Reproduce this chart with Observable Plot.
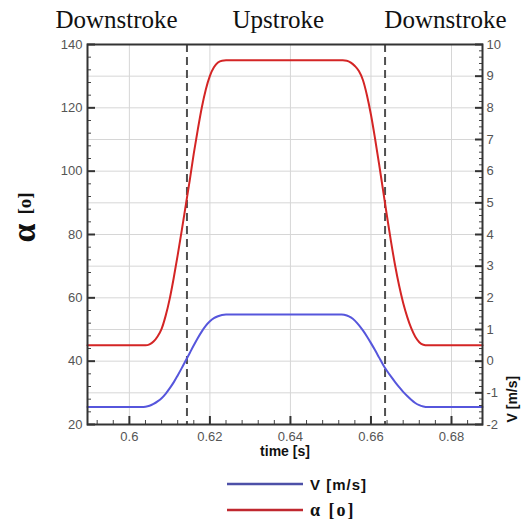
<!DOCTYPE html>
<html><head><meta charset="utf-8">
<script src="https://cdn.jsdelivr.net/npm/d3@7"></script>
<script src="https://cdn.jsdelivr.net/npm/@observablehq/plot@0.6"></script>
<style>
body{margin:0;background:#fff;}
#chart{width:525px;height:470px;}
#legend{position:relative;width:525px;height:54px;}
.row{position:absolute;left:227px;display:flex;align-items:center;height:20px;}
.row svg{display:block;}
.lab{margin-left:7px;color:#111;}
</style></head><body>
<div id="chart"></div>
<div id="legend"></div>
<script>
// ---- data ----
const alphaT = [0.5896,0.6000,0.6040,0.6050,0.6060,0.6070,0.6080,0.6090,0.6100,0.6110,0.6120,0.6130,0.6140,0.6150,0.6160,0.6170,0.6180,0.6190,0.6200,0.6210,0.6220,0.6230,0.6240,
  0.6400,0.6530,0.6540,0.6550,0.6560,0.6570,0.6580,0.6590,0.6600,0.6610,0.6620,0.6630,0.6640,0.6650,0.6660,0.6670,0.6680,0.6690,0.6700,0.6710,0.6720,0.6730,0.6740,0.6877];
const alphaVal = [45,45,45,45.3,46.2,47.8,50.2,54.3,59.6,66.2,73.5,81.2,89.2,97.2,105.6,113.2,120.2,125.9,130.1,132.8,134.3,134.9,135,
  135,135,134.9,134.3,133.2,131.6,128.8,124.0,117.8,110.4,102.4,94.0,85.6,77.6,70.2,63.8,58.4,54.0,50.4,47.7,46.0,45.2,45,45];
const velT = [0.5896,0.6030,0.6040,0.6050,0.6060,0.6070,0.6080,0.6090,0.6100,0.6110,0.6120,0.6130,0.6140,0.6150,0.6160,0.6170,0.6180,0.6190,0.6200,0.6210,0.6220,0.6230,0.6240,
  0.6400,0.6527,0.6540,0.6550,0.6560,0.6570,0.6580,0.6590,0.6600,0.6610,0.6620,0.6630,0.6640,0.6650,0.6660,0.6670,0.6680,0.6690,0.6700,0.6710,0.6720,0.6730,0.6740,0.6877];
const velVal = [-1.45,-1.45,-1.44,-1.41,-1.35,-1.27,-1.17,-1.03,-0.86,-0.67,-0.45,-0.22,0.02,0.26,0.50,0.73,0.94,1.12,1.26,1.36,1.42,1.46,1.47,
  1.47,1.47,1.44,1.38,1.28,1.14,0.97,0.78,0.57,0.35,0.12,-0.11,-0.31,-0.49,-0.66,-0.82,-0.97,-1.10,-1.22,-1.32,-1.39,-1.43,-1.45,-1.45];
const strokeTimes = [0.6143, 0.6635];
const phaseLabels = ["Downstroke", "Upstroke", "Downstroke"];
const phaseLabelT = [0.5968, 0.6370, 0.6785];
const xTicks = [0.6, 0.62, 0.64, 0.66, 0.68];
const alphaTicks = [20, 40, 60, 80, 100, 120, 140];
const vTicks = [-2, -1, 0, 1, 2, 3, 4, 5, 6, 7, 8, 9, 10];

// ---- build tables ----
const alphaData = alphaT.map((t, i) => ({t, a: alphaVal[i]}));
const velData = velT.map((t, i) => ({t, v: velVal[i]}));
const phases = phaseLabels.map((label, i) => ({label, t: phaseLabelT[i]}));
const vToA = v => 40 + 10 * v;   // right axis V [m/s] mapped on the alpha scale
const aToV = a => Math.round((a - 40) / 10);
const leftMinor = d3.range(24, 140, 4).filter(d => d % 20 !== 0);
const rightMinor = d3.range(22, 140, 2).filter(d => d % 10 !== 0);
const bottomMinor = d3.range(148, 172).filter(i => i % 5 !== 0).map(i => i * 0.004).filter(d => d > 0.5896 && d < 0.6877);

const sans = "Liberation Sans, Arial, sans-serif";
const serif = "Liberation Serif, Times New Roman, serif";

const chart = Plot.plot({
  width: 525, height: 470,
  marginTop: 44, marginBottom: 46, marginLeft: 87, marginRight: 43,
  style: {fontFamily: sans, background: "white", overflow: "visible"},
  x: {domain: [0.5896, 0.6877]},
  y: {domain: [20, 140]},
  marks: [
    Plot.gridY(d3.range(30, 140, 10), {stroke: "#d6d6d6", strokeOpacity: 1}),
    Plot.gridX(xTicks, {stroke: "#d6d6d6", strokeOpacity: 1}),
    Plot.ruleX(strokeTimes, {stroke: "#505050", strokeWidth: 2, strokeDasharray: "8,5"}),
    Plot.line(velData, {x: "t", y: d => vToA(d.v), stroke: "#5656dc", strokeWidth: 2, curve: "monotone-x"}),
    Plot.line(alphaData, {x: "t", y: "a", stroke: "#d42525", strokeWidth: 2, curve: "monotone-x"}),
    // left axis
    Plot.axisY(alphaTicks, {anchor: "left", tickSize: -8, fill: "none", stroke: "#333", strokeWidth: 2}),
    Plot.axisY(leftMinor, {anchor: "left", tickSize: -4, fill: "none", stroke: "#444", strokeWidth: 1}),
    Plot.axisY(alphaTicks, {anchor: "left", tickSize: 0, tickPadding: 5, label: null, fontSize: 13, fill: "#555"}),
    // right axis
    Plot.axisY(vTicks.map(vToA), {anchor: "right", tickSize: -8, fill: "none", stroke: "#333", strokeWidth: 2}),
    Plot.axisY(rightMinor, {anchor: "right", tickSize: -4, fill: "none", stroke: "#444", strokeWidth: 1}),
    Plot.axisY(vTicks.map(vToA), {anchor: "right", tickSize: 0, tickPadding: 4, label: null, tickFormat: aToV, fontSize: 13, fill: "#555"}),
    // bottom axis
    Plot.axisX(xTicks, {anchor: "bottom", tickSize: -8, fill: "none", stroke: "#333", strokeWidth: 2}),
    Plot.axisX(bottomMinor, {anchor: "bottom", tickSize: -4, fill: "none", stroke: "#444", strokeWidth: 1}),
    Plot.axisX(xTicks, {anchor: "bottom", tickSize: 0, tickPadding: 7, label: null, tickFormat: d => String(d), fontSize: 13, fill: "#555"}),
    Plot.frame({stroke: "#333", strokeWidth: 2}),
    // titles
    Plot.text(phases, {x: "t", text: "label", frameAnchor: "top", lineAnchor: "bottom", dy: -17, fontFamily: serif, fontSize: 25, fill: "#111"}),
    Plot.text(["time [s]"], {text: d => d, frameAnchor: "bottom", dy: 31, fontWeight: "bold", fontSize: 14, fill: "#111"}),
    Plot.text(["V [m/s]"], {text: d => d, frameAnchor: "bottom-right", rotate: -90, textAnchor: "start", dx: 34, dy: -2, fontWeight: "bold", fontSize: 14, fill: "#111"}),
    Plot.text(["α"], {text: d => d, frameAnchor: "left", rotate: -90, dx: -63, dy: 8, fontFamily: serif, fontWeight: "bold", fontSize: 34, fill: "#111"}),
    Plot.text(["[o]"], {text: d => d, frameAnchor: "left", rotate: -90, dx: -63, dy: -20, fontFamily: serif, fontWeight: "bold", fontSize: 19, fill: "#111"})
  ]
});
document.getElementById("chart").appendChild(chart);

// ---- legend ----
const legendItems = [
  {label: "V [m/s]", color: "#4d50a8", font: "bold 15px " + sans, spacing: "1px", top: 4},
  {label: "α [o]", color: "#c0282f", font: "bold 18px " + serif, spacing: "2px", top: 30}
];
const legend = d3.select("#legend");
for (const it of legendItems) {
  const row = legend.append("div").attr("class", "row").style("top", it.top + "px");
  const s = row.append("svg").attr("width", 76).attr("height", 6);
  s.append("line").attr("x1", 0).attr("x2", 76).attr("y1", 3).attr("y2", 3).attr("stroke", it.color).attr("stroke-width", 2.5);
  row.append("span").attr("class", "lab").style("font", it.font).style("letter-spacing", it.spacing).text(it.label);
}
</script>
</body></html>
